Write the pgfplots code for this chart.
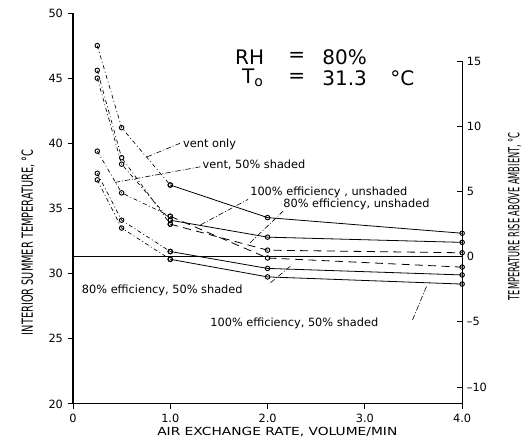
\documentclass[border=0pt]{standalone}
\usepackage{fontspec}
\setmainfont{DejaVu Sans}
\usepackage{graphicx}
\usepackage{pgfplots}
\pgfplotsset{compat=1.18}
\begin{document}
\begin{tikzpicture}[
  early/.style={black, line width=0.5pt, dash pattern=on 3pt off 2pt on 0.7pt off 2pt},
  sol/.style={black, line width=0.6pt},
  dsh/.style={black, line width=0.6pt, dash pattern=on 6pt off 4pt},
  mk/.style={mark=o, mark size=1.7pt, mark options={solid, line width=0.7pt}},
  lbl/.style={font=\fontsize{8.5}{10}\selectfont, anchor=west, inner sep=0pt},
  lead/.style={black, line width=0.45pt, dash pattern=on 4pt off 1.5pt on 0.7pt off 1.5pt}
]
\begin{axis}[
  at={(0,0)}, anchor=south west,
  scale only axis, width=291.9pt, height=293.2pt,
  xmin=0, xmax=4, ymin=20, ymax=50,
  axis x line=bottom, axis y line=left,
  axis line style={-, line width=0.8pt},
  xtick={0,1,2,3,4}, xticklabels={0,1.0,2.0,3.0,4.0},
  ytick={20,25,30,35,40,45,50},
  tick align=outside, major tick length=4pt,
  tick style={black, line width=0.7pt},
  /pgf/number format/assume math mode=true,
  tick label style={font=\fontsize{8.5}{10}\selectfont},
  clip=false,
]
% ambient line
\addplot[sol, line width=0.7pt] coordinates {(0,31.3) (4,31.3)};
% vent only
\addplot[early, mk] coordinates {(0.25,47.5) (0.5,41.2) (1.0,36.8)};
\addplot[sol, mk] coordinates {(1.0,36.8) (2.0,34.3) (4.0,33.1)};
% 100% efficiency, unshaded
\addplot[early, mk] coordinates {(0.25,45.0) (0.5,38.4) (1.0,34.1)};
\addplot[sol, mk] coordinates {(1.0,34.1) (2.0,32.8) (4.0,32.4)};
% 80% efficiency, unshaded
\addplot[early, mk] coordinates {(0.25,45.6) (0.5,38.9) (1.0,33.8)};
\addplot[dsh, mk] coordinates {(1.0,33.8) (2.0,31.8) (4.0,31.6)};
% vent, 50% shaded
\addplot[early, mk] coordinates {(0.25,39.4) (0.5,36.2) (1.0,34.4)};
\addplot[dsh, mk] coordinates {(1.0,34.4) (2.0,31.2) (4.0,30.5)};
% 80% efficiency, 50% shaded
\addplot[early, mk] coordinates {(0.25,37.7) (0.5,34.1) (1.0,31.7)};
\addplot[sol, mk] coordinates {(1.0,31.7) (2.0,30.4) (4.0,29.9)};
% 100% efficiency, 50% shaded
\addplot[early, mk] coordinates {(0.25,37.2) (0.5,33.5) (1.0,31.1)};
\addplot[sol, mk] coordinates {(1.0,31.1) (2.0,29.75) (4.0,29.2)};

% labels and leaders
\node[lbl] at (axis cs:1.13,39.9) {vent only};
\draw[lead] (axis cs:0.76,38.96) -- (axis cs:1.10,40.0);
\node[lbl] at (axis cs:1.33,38.35) {vent, 50\% shaded};
\draw[lead] (axis cs:0.43,37.0) -- (axis cs:1.31,38.2);
\node[lbl] at (axis cs:1.82,36.25) {100\% efficiency , unshaded};
\draw[lead] (axis cs:1.31,33.74) -- (axis cs:1.80,35.7);
\node[lbl] at (axis cs:2.16,35.35) {80\% efficiency, unshaded};
\draw[lead] (axis cs:1.82,32.36) -- (axis cs:2.16,34.8);
\node[lbl] at (axis cs:0.09,28.75) {80\% efficiency, 50\% shaded};
\draw[lead] (axis cs:2.03,29.3) -- (axis cs:2.25,30.67);
\node[lbl] at (axis cs:1.41,26.2) {100\% efficiency, 50\% shaded};
\draw[lead] (axis cs:3.49,26.45) -- (axis cs:3.64,29.13);

% title block
\node[anchor=west, inner sep=0pt, font=\fontsize{15}{16}\selectfont] at (axis cs:1.665,46.6) {RH};
\node[anchor=west, inner sep=0pt, font=\fontsize{15}{16}\selectfont] at (axis cs:2.21,46.6) {=};
\node[anchor=west, inner sep=0pt, font=\fontsize{15}{16}\selectfont] at (axis cs:2.56,46.6) {80\%};
\node[anchor=west, inner sep=0pt, font=\fontsize{15}{16}\selectfont] at (axis cs:1.737,45.0) {T\textsubscript{o}};
\node[anchor=west, inner sep=0pt, font=\fontsize{15}{16}\selectfont] at (axis cs:2.21,45.0) {=};
\node[anchor=west, inner sep=0pt, font=\fontsize{15}{16}\selectfont] at (axis cs:2.56,45.0) {31.3};
\node[anchor=west, inner sep=0pt, font=\fontsize{15}{16}\selectfont] at (axis cs:3.26,45.0) {°C};

% axis titles
\node[rotate=90, inner sep=0pt] at (axis cs:-0.46,32.4) {\resizebox{139pt}{8.5pt}{\fontsize{12}{12}\selectfont INTERIOR SUMMER TEMPERATURE, °C}};
\node[rotate=90, inner sep=0pt] at (axis cs:4.54,34.4) {\resizebox{126pt}{8.5pt}{\fontsize{12}{12}\selectfont TEMPERATURE RISE ABOVE AMBIENT, °C}};
\node[inner sep=0pt] at (axis cs:2.1,17.85) {\resizebox{180pt}{6.2pt}{\fontsize{9}{10}\selectfont AIR EXCHANGE RATE, VOLUME/MIN}};

\coordinate (bl) at (axis cs:-0.75,17.39);
\coordinate (tr) at (axis cs:4.687,51.0);
\end{axis}
\begin{axis}[
  at={(0,0)}, anchor=south west,
  scale only axis, width=291.9pt, height=257.0pt,
  xmin=0, xmax=4, ymin=-11.3, ymax=15,
  axis x line=none, axis y line=right,
  axis line style={-, line width=0.8pt},
  ytick={-10,-5,0,5,10,15},
  yticklabels={--10,--5,0,5,10,15},
  tick align=inside, major tick length=4pt,
  tick style={black, line width=0.7pt},
  tick label style={font=\fontsize{8.5}{10}\selectfont},
]
\end{axis}
\pgfresetboundingbox
\useasboundingbox (bl) rectangle (tr);
\end{tikzpicture}
\end{document}
